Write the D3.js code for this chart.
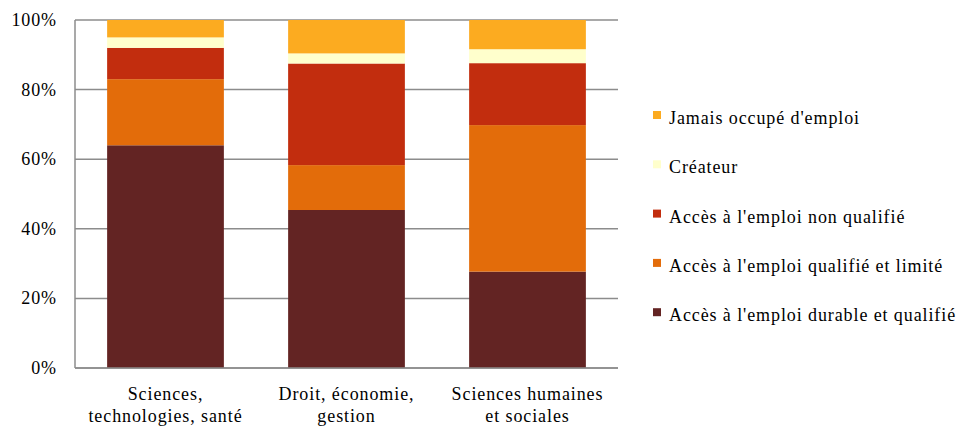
<!DOCTYPE html>
<html>
<head>
<meta charset="utf-8">
<script src="https://cdn.jsdelivr.net/npm/d3@7"></script>
<style>
  .lbl { font: 18px "Liberation Serif", "Times New Roman", Tinos, serif !important; letter-spacing: 0.9px; fill: #000; }
</style>
</head>
<body style="margin:0">
<svg id="chart" width="972" height="428"></svg>
<script>
// Fields of study (two-line labels)
const categories = [
  ["Sciences,", "technologies, santé"],
  ["Droit, économie,", "gestion"],
  ["Sciences humaines", "et sociales"]
];

// Series, bottom to top of each stack (share of leavers, %)
const seriesNames = [
  "Accès à l'emploi durable et qualifié",
  "Accès à l'emploi qualifié et limité",
  "Accès à l'emploi non qualifié",
  "Créateur",
  "Jamais occupé d'emploi"
];
const durable     = [64.0, 45.4, 27.7];
const limite      = [19.0, 12.9, 42.1];
const nonQualifie = [9.0, 29.2, 17.8];
const createur    = [3.0, 2.9, 4.0];
const jamais      = [5.0, 9.6, 8.4];

const seriesColors = ["#632423", "#E36C0A", "#C22D0E", "#FFFFCC", "#FCAB20"];
const yTicks = [0, 20, 40, 60, 80, 100];

const seriesValues = [durable, limite, nonQualifie, createur, jamais];
const rows = categories.map((c, i) => {
  const r = { key: i };
  seriesNames.forEach((n, s) => { r[n] = seriesValues[s][i]; });
  return r;
});

const svg = d3.select("#chart");
const plot = { left: 75, right: 618, top: 20, bottom: 368 };

const x = d3.scaleBand()
  .domain(categories.map((c, i) => i))
  .range([plot.left, plot.right])
  .paddingInner(0.355)
  .paddingOuter(0.1775);

const y = d3.scaleLinear().domain([0, 100]).range([plot.bottom, plot.top]);

// Horizontal gridlines
svg.append("g")
  .selectAll("line")
  .data(yTicks)
  .join("line")
  .attr("x1", plot.left).attr("x2", plot.right)
  .attr("y1", d => y(d)).attr("y2", d => y(d))
  .attr("stroke", "#8c8c8c").attr("stroke-width", 1.5);

// Left axis line
svg.append("line")
  .attr("x1", plot.left).attr("x2", plot.left)
  .attr("y1", plot.top).attr("y2", plot.bottom)
  .attr("stroke", "#8c8c8c").attr("stroke-width", 1.5);

// Y tick labels
const yAxis = d3.axisLeft(y).tickValues(yTicks).tickFormat(d => d + "%").tickSize(0).tickPadding(18);
const yg = svg.append("g").attr("transform", `translate(${plot.left},0)`).call(yAxis);
yg.select(".domain").remove();
yg.attr("font-family", null).attr("font-size", null);
yg.selectAll("text").attr("class", "lbl").attr("dy", "0.3em");

// Stacked bars
const stacked = d3.stack().keys(seriesNames)(rows);

svg.append("g")
  .selectAll("g")
  .data(stacked)
  .join("g")
  .attr("fill", (d, i) => seriesColors[i])
  .selectAll("rect")
  .data(d => d)
  .join("rect")
  .attr("x", d => x(d.data.key))
  .attr("width", x.bandwidth())
  .attr("y", d => y(d[1]))
  .attr("height", d => y(d[0]) - y(d[1]));

// Bottom axis line drawn over the bars
svg.append("line")
  .attr("x1", plot.left).attr("x2", plot.right)
  .attr("y1", plot.bottom).attr("y2", plot.bottom)
  .attr("stroke", "#8c8c8c").attr("stroke-width", 1.5);

// Category labels
const catG = svg.append("g");
categories.forEach((lines, i) => {
  const cx = x(i) + x.bandwidth() / 2;
  const t = catG.append("text")
    .attr("class", "lbl")
    .attr("x", cx)
    .attr("y", 400)
    .attr("text-anchor", "middle");
  lines.forEach((ln, j) => {
    t.append("tspan").attr("x", cx).attr("dy", j === 0 ? 0 : 22).text(ln);
  });
});

// Legend (top entry is the top of the stack)
const legendOrder = seriesNames.map((n, i) => ({ name: n, color: seriesColors[i] })).reverse();
const legend = svg.append("g").attr("transform", "translate(653,0)");
const lg = legend.selectAll("g")
  .data(legendOrder)
  .join("g")
  .attr("transform", (d, i) => `translate(0,${118 + i * 49.3})`);
lg.append("rect")
  .attr("x", 0).attr("y", -7).attr("width", 8).attr("height", 8)
  .attr("fill", d => d.color);
lg.append("text")
  .attr("class", "lbl")
  .attr("x", 16).attr("y", 6)
  .text(d => d.name);
</script>
</body>
</html>
